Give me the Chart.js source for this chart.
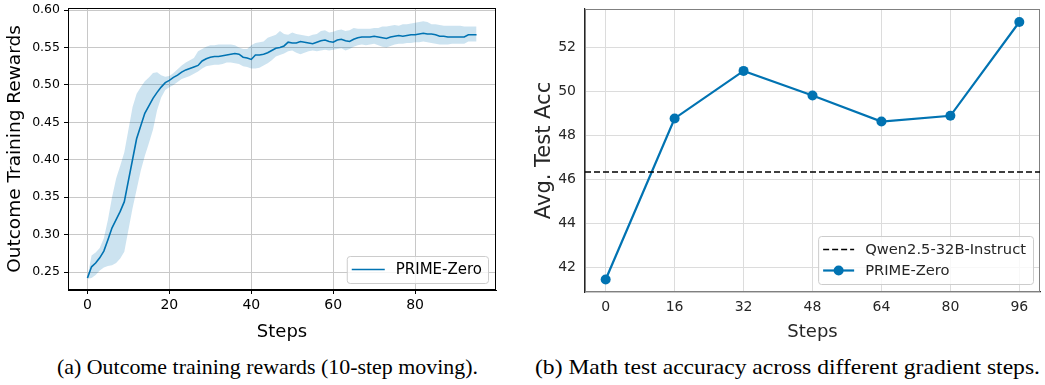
<!DOCTYPE html>
<html>
<head>
<meta charset="utf-8">
<script src="https://cdn.jsdelivr.net/npm/chart.js@4"></script>
<style>
  body { margin: 0; background: #fff; width: 1045px; height: 385px; overflow: hidden; position: relative; }
  #rewardsWrap { position: absolute; left: 0; top: 0; width: 500px; height: 345px; }
  #accWrap { position: absolute; left: 510px; top: 0; width: 535px; height: 345px; }
  .caption { position: absolute; top: 355px; font-family: "Liberation Serif", "Times New Roman", serif; font-size: 21px; color: #000; white-space: nowrap; transform-origin: left center; }
</style>
</head>
<body>
<div id="rewardsWrap"><canvas id="rewardsChart"></canvas></div>
<div id="accWrap"><canvas id="accChart"></canvas></div>
<div class="caption" style="left: 57px;" data-fit="421">(a) Outcome training rewards (10-step moving).</div>
<div class="caption" style="left: 535px;" data-fit="505">(b) Math test accuracy across different gradient steps.</div>

<script>
// Left panel: 10-step moving average of outcome rewards, with spread band
const rewardMean = [
  0.242, 0.257, 0.262, 0.269, 0.278, 0.293, 0.309, 0.320, 0.331, 0.344,
  0.372, 0.400, 0.428, 0.445, 0.462, 0.472, 0.482, 0.490, 0.497, 0.503,
  0.506, 0.510, 0.513, 0.517, 0.520, 0.522, 0.524, 0.526, 0.532, 0.535,
  0.537, 0.538, 0.538, 0.539, 0.540, 0.541, 0.542, 0.541, 0.537, 0.536,
  0.534, 0.540, 0.540, 0.541, 0.543, 0.546, 0.549, 0.550, 0.552, 0.557,
  0.556, 0.556, 0.558, 0.557, 0.556, 0.555, 0.557, 0.559, 0.560, 0.558,
  0.557, 0.560, 0.561, 0.559, 0.558, 0.561, 0.563, 0.564, 0.564, 0.564,
  0.565, 0.564, 0.563, 0.562, 0.564, 0.565, 0.566, 0.565, 0.566, 0.567,
  0.567, 0.568, 0.569, 0.568, 0.568, 0.567, 0.565, 0.565, 0.564, 0.564,
  0.564, 0.564, 0.564, 0.567, 0.567, 0.567
];
const rewardUpper = [
  0.243, 0.272, 0.276, 0.282, 0.295, 0.320, 0.350, 0.375, 0.392, 0.410,
  0.440, 0.470, 0.488, 0.497, 0.505, 0.510, 0.516, 0.517, 0.513, 0.511,
  0.512, 0.516, 0.521, 0.526, 0.530, 0.533, 0.536, 0.545, 0.548, 0.551,
  0.553, 0.553, 0.554, 0.554, 0.554, 0.554, 0.553, 0.550, 0.548, 0.548,
  0.553, 0.556, 0.557, 0.558, 0.563, 0.565, 0.567, 0.572, 0.568, 0.567,
  0.570, 0.568, 0.567, 0.566, 0.565, 0.567, 0.568, 0.572, 0.573, 0.570,
  0.571, 0.573, 0.574, 0.572, 0.573, 0.576, 0.575, 0.575, 0.575, 0.575,
  0.576, 0.576, 0.578, 0.578, 0.579, 0.580, 0.579, 0.581, 0.581, 0.582,
  0.583, 0.584, 0.585, 0.584, 0.581, 0.581, 0.580, 0.579, 0.579, 0.579,
  0.579, 0.579, 0.578, 0.578, 0.578, 0.578
];
const rewardLower = [
  0.241, 0.242, 0.246, 0.252, 0.256, 0.258, 0.259, 0.262, 0.268, 0.277,
  0.306, 0.335, 0.360, 0.385, 0.405, 0.422, 0.440, 0.466, 0.483, 0.493,
  0.497, 0.500, 0.504, 0.508, 0.510, 0.512, 0.515, 0.518, 0.522, 0.525,
  0.526, 0.527, 0.527, 0.528, 0.530, 0.530, 0.529, 0.528, 0.525, 0.524,
  0.522, 0.522, 0.523, 0.526, 0.529, 0.533, 0.538, 0.540, 0.542, 0.545,
  0.546, 0.543, 0.541, 0.543, 0.545, 0.546, 0.545, 0.546, 0.547, 0.546,
  0.547, 0.548, 0.549, 0.546, 0.548, 0.551, 0.553, 0.554, 0.553, 0.554,
  0.555, 0.553, 0.551, 0.550, 0.552, 0.554, 0.555, 0.555, 0.556, 0.556,
  0.557, 0.557, 0.558, 0.557, 0.556, 0.555, 0.554, 0.554, 0.554, 0.555,
  0.555, 0.555, 0.555, 0.558, 0.558, 0.558
];
const rewardXTicks = [0, 20, 40, 60, 80];
const rewardYTicks = [0.25, 0.30, 0.35, 0.40, 0.45, 0.50, 0.55, 0.60];

// Right panel: test accuracy at gradient steps
const evalSteps = [0, 16, 32, 48, 64, 80, 96];
const primeZeroAcc = [41.45, 48.76, 50.92, 49.8, 48.62, 48.88, 53.14];
const qwenBaseline = 46.33;
const accYTicks = [42, 44, 46, 48, 50, 52];

const BLUE = '#0173b2';
const FONT = "'DejaVu Sans', sans-serif";

function fixedTicks(values) {
    return function(scale) {
        scale.ticks = values.map(v => ({ value: v }));
    };
}

// fix the axis box size and drop the edge-label padding so the plot area stays put
function fixSize(prop, size) {
    return function(scale) {
        scale[prop] = size;
        scale.paddingTop = 0;
        scale.paddingBottom = 0;
        scale.paddingLeft = 0;
        scale.paddingRight = 0;
    };
}

// frame around the plot area (matplotlib-style spines)
function framePlugin(color) {
    return {
        id: 'frame',
        beforeDatasetsDraw(chart) {
            const a = chart.chartArea;
            const ctx = chart.ctx;
            ctx.save();
            ctx.strokeStyle = color;
            ctx.lineWidth = 1;
            ctx.strokeRect(a.left + 0.5, a.top + 0.5, a.right - a.left - 1, a.bottom - a.top - 1);
            ctx.restore();
        }
    };
}

// legend drawn in the lower right corner of the plot area
function legendPlugin(items, opts) {
    return {
        id: 'cornerLegend',
        afterDatasetsDraw(chart) {
            const a = chart.chartArea;
            const ctx = chart.ctx;
            ctx.save();
            ctx.font = opts.fontSize + 'px ' + FONT;
            const textW = Math.max(...items.map(it => ctx.measureText(it.label).width));
            const w = opts.padL + opts.handle + opts.gap + textW + opts.padR;
            const h = opts.rowH * items.length + opts.padV * 2;
            const x0 = a.right - opts.right - w;
            const y0 = a.bottom - opts.bottom - h;
            ctx.fillStyle = 'rgba(255,255,255,0.8)';
            ctx.strokeStyle = '#cccccc';
            ctx.lineWidth = 1;
            ctx.beginPath();
            ctx.roundRect(x0 + 0.5, y0 + 0.5, w, h, 3);
            ctx.fill();
            ctx.stroke();
            items.forEach((it, i) => {
                const cy = y0 + opts.padV + opts.rowH * (i + 0.5);
                const lx = x0 + opts.padL;
                ctx.strokeStyle = it.color;
                ctx.lineWidth = it.width;
                ctx.setLineDash(it.dash || []);
                ctx.beginPath();
                ctx.moveTo(lx, cy);
                ctx.lineTo(lx + opts.handle, cy);
                ctx.stroke();
                ctx.setLineDash([]);
                if (it.marker) {
                    ctx.fillStyle = it.color;
                    ctx.beginPath();
                    ctx.arc(lx + opts.handle / 2, cy, it.marker, 0, Math.PI * 2);
                    ctx.fill();
                }
                ctx.fillStyle = opts.textColor;
                ctx.textBaseline = 'middle';
                ctx.fillText(it.label, lx + opts.handle + opts.gap, cy + 1);
            });
            ctx.restore();
        }
    };
}

document.addEventListener('DOMContentLoaded', function() {
    createRewardsChart();
    createAccChart();
    // stretch captions to the width they take in the figure
    document.querySelectorAll('.caption').forEach(el => {
        const w = el.getBoundingClientRect().width;
        el.style.transform = 'scaleX(' + (Number(el.dataset.fit) / w) + ')';
    });
});

function createRewardsChart() {
    const steps = rewardMean.map((_, i) => i);
    const pts = arr => arr.map((v, i) => ({ x: steps[i], y: v }));
    const ctx = document.getElementById('rewardsChart').getContext('2d');
    new Chart(ctx, {
        type: 'line',
        data: {
            datasets: [
                { data: pts(rewardLower), borderWidth: 0, pointRadius: 0, fill: false },
                { data: pts(rewardUpper), borderWidth: 0, pointRadius: 0, fill: '-1',
                  backgroundColor: 'rgba(1,115,178,0.2)' },
                { label: 'PRIME-Zero', data: pts(rewardMean), borderColor: BLUE, borderWidth: 1.6,
                  pointRadius: 0, fill: false }
            ]
        },
        options: {
            responsive: true,
            maintainAspectRatio: false,
            animation: false,
            layout: { padding: { top: 8, right: 4, left: 0, bottom: 0 } },
            plugins: { legend: { display: false }, tooltip: { enabled: false } },
            scales: {
                x: {
                    type: 'linear', min: -4.75, max: 99.75,
                    afterBuildTicks: fixedTicks(rewardXTicks),
                    afterFit: fixSize('height', 55),
                    grid: { color: '#c8c8c8', lineWidth: 1, tickLength: 4, tickColor: '#000' },
                    border: { color: '#000', width: 1 },
                    ticks: { color: '#000', font: { family: FONT, size: 14 }, padding: 3, maxRotation: 0 },
                    title: { display: true, text: 'Steps', color: '#000', font: { family: FONT, size: 18 },
                             padding: { top: 0, bottom: 2 } }
                },
                y: {
                    min: 0.226, max: 0.6027,
                    afterBuildTicks: fixedTicks(rewardYTicks),
                    afterFit: fixSize('width', 68),
                    grid: { color: '#c8c8c8', lineWidth: 1, tickLength: 4, tickColor: '#000' },
                    border: { color: '#000', width: 1 },
                    ticks: { color: '#000', font: { family: FONT, size: 12.5 }, padding: 4,
                             callback: v => v.toFixed(2) },
                    title: { display: true, text: 'Outcome Training Rewards', color: '#000',
                             font: { family: FONT, size: 18.5 }, padding: { top: 4, bottom: 0 } }
                }
            }
        },
        plugins: [
            framePlugin('#000'),
            legendPlugin([{ label: 'PRIME-Zero', color: BLUE, width: 1.6 }],
                { fontSize: 15, padL: 5, handle: 33, gap: 11, padR: 6, rowH: 19, padV: 4,
                  right: 8, bottom: 7, textColor: '#000' })
        ]
    });
}

function createAccChart() {
    const xMin = -4.8, xMax = 100.8;
    const ctx = document.getElementById('accChart').getContext('2d');
    new Chart(ctx, {
        type: 'line',
        data: {
            datasets: [
                { label: 'Qwen2.5-32B-Instruct',
                  data: [{ x: xMin, y: qwenBaseline }, { x: xMax, y: qwenBaseline }],
                  borderColor: '#000', borderWidth: 1.5, borderDash: [6, 3], pointRadius: 0, fill: false },
                { label: 'PRIME-Zero',
                  data: evalSteps.map((s, i) => ({ x: s, y: primeZeroAcc[i] })),
                  borderColor: BLUE, backgroundColor: BLUE, borderWidth: 2.2,
                  pointRadius: 5, pointHoverRadius: 5, pointBorderWidth: 0, fill: false }
            ]
        },
        options: {
            responsive: true,
            maintainAspectRatio: false,
            animation: false,
            layout: { padding: { top: 9, right: 1, left: 0, bottom: 0 } },
            plugins: { legend: { display: false }, tooltip: { enabled: false } },
            scales: {
                x: {
                    type: 'linear', min: xMin, max: xMax,
                    afterBuildTicks: fixedTicks(evalSteps),
                    afterFit: fixSize('height', 53),
                    grid: { color: '#dcdcdc', lineWidth: 1, drawTicks: false },
                    border: { color: '#262626', width: 1.2 },
                    ticks: { color: '#262626', font: { family: FONT, size: 14 }, padding: 7, maxRotation: 0 },
                    title: { display: true, text: 'Steps', color: '#262626', font: { family: FONT, size: 18 },
                             padding: { top: 0, bottom: 2 } }
                },
                y: {
                    min: 40.88, max: 53.73,
                    afterBuildTicks: fixedTicks(accYTicks),
                    afterFit: fixSize('width', 75),
                    grid: { color: '#dcdcdc', lineWidth: 1, drawTicks: false },
                    border: { color: '#262626', width: 1.2 },
                    ticks: { color: '#262626', font: { family: FONT, size: 14 }, padding: 9 },
                    title: { display: true, text: 'Avg. Test Acc', color: '#262626',
                             font: { family: FONT, size: 21 }, padding: { top: 22, bottom: 0 } }
                }
            }
        },
        plugins: [
            framePlugin('#808080'),
            legendPlugin([
                { label: 'Qwen2.5-32B-Instruct', color: '#000', width: 1.5, dash: [6, 3] },
                { label: 'PRIME-Zero', color: BLUE, width: 2.2, marker: 5 }
            ], { fontSize: 14.7, padL: 5, handle: 31, gap: 11, padR: 7, rowH: 21, padV: 3,
                 right: 7, bottom: 8, textColor: '#262626' })
        ]
    });
}
</script>
</body>
</html>
